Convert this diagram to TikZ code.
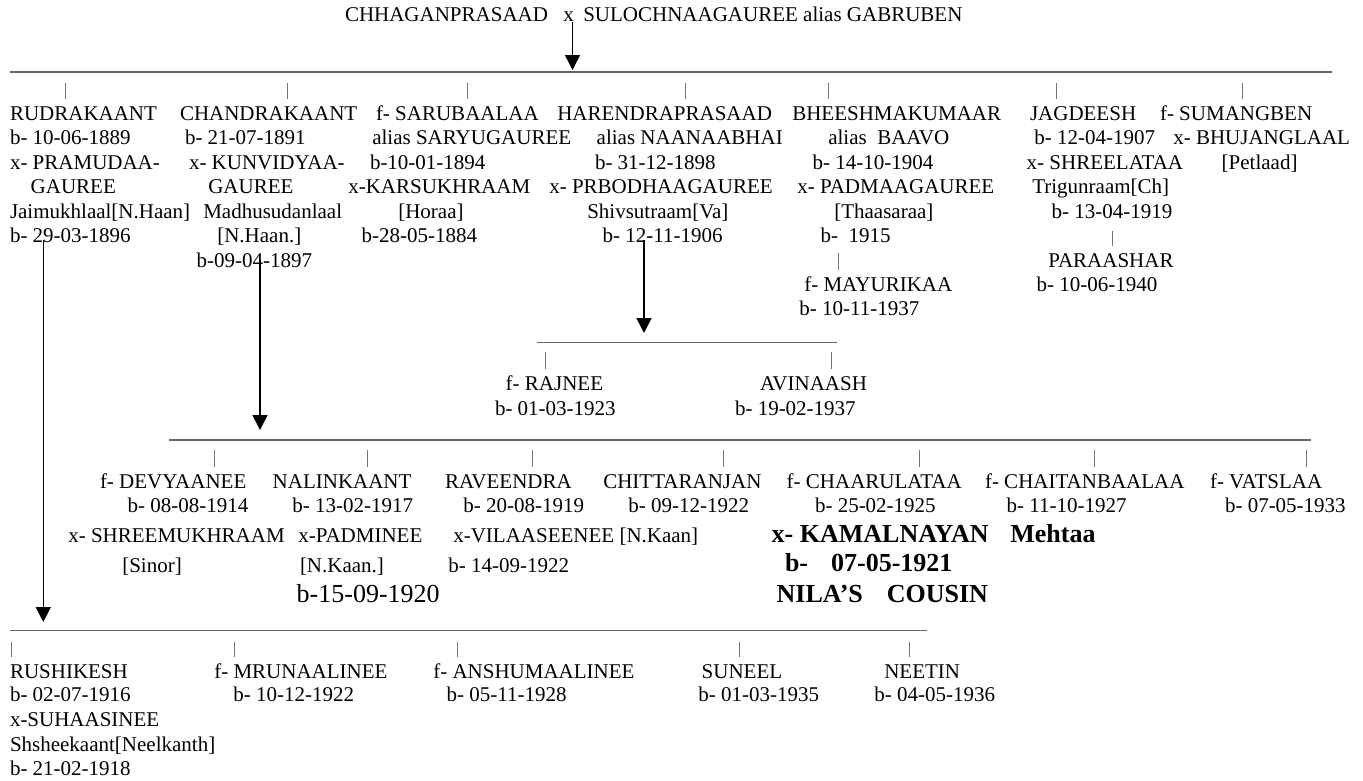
\documentclass[tikz,border=0pt]{standalone}
\usepackage{fontspec}
\setmainfont{Liberation Serif}
\usetikzlibrary{arrows.meta}
\newcommand\rfs{\fontsize{21pt}{24pt}\selectfont}
\newcommand\bigfs{\fontsize{26pt}{30pt}\selectfont}
\newcommand\boldfs{\fontsize{26pt}{30pt}\selectfont\bfseries}
\begin{document}
\begin{tikzpicture}[x=1pt,y=-1pt,
  t/.style={anchor=base west,inner sep=0pt,outer sep=0pt,font=\rfs},
  tbig/.style={t,font=\bigfs},
  tbold/.style={t,font=\boldfs},
  rule/.style={draw=black!60,line width=1.2pt},
  tick/.style={draw=black!55,line width=0.7pt},
  arr/.style={draw=black,line width=1.5pt,-{Triangle[width=15pt,length=15pt]}}]
\useasboundingbox[fill=white] (0,0) rectangle (1363,780);

% ---------- title ----------
\node[t] (ti1) at (345,21.7) {CHHAGANPRASAAD};
\node[t] (tix) at (563.3,21.7) {x};
\node[t] (ti2) at (583.3,21.7) {SULOCHNAAGAUREE alias GABRUBEN};

% ---------- horizontal rules ----------
\coordinate (L1w) at (10,72);     \coordinate (L1e) at (1332,72);
\coordinate (L2w) at (536.7,342.7); \coordinate (L2e) at (836.7,342.7);
\coordinate (L3w) at (169,440);   \coordinate (L3e) at (1310.7,440);
\coordinate (L4w) at (10,630.5);  \coordinate (L4e) at (926.7,630.5);
\draw[rule] (L1w) -- (L1e);
\draw[rule] (L2w) -- (L2e);
\draw[rule] (L3w) -- (L3e);
\draw[rule] (L4w) -- (L4e);

% ---------- ticks ----------
\foreach \x in {65,287.7,467.7,685.7,828.3,1056.7,1242.3}
  \draw[tick] (\x,83) -- (\x,99);
\draw[tick] (838,253) -- (838,270);
\draw[tick] (1112,231) -- (1112,246);
\foreach \x in {545,831.7}
  \draw[tick] (\x,351.7) -- (\x,369);
\foreach \x in {214.3,367.7,532.3,723.3,919,1094,1306}
  \draw[tick] (\x,450) -- (\x,466.7);
\foreach \x in {11.7,234.3,457.7,739,909}
  \draw[tick] (\x,641.7) -- (\x,656.7);

% ---------- generation 1 ----------
% Rudrakaant
\node[t] (ru1) at (10,120) {RUDRAKAANT};
\node[t] (ru2) at (10,144.5) {b- 10-06-1889};
\node[t] (ru3) at (10,169) {x- PRAMUDAA-};
\node[t] (ru4) at (30.7,193.5) {GAUREE};
\node[t] (ru5) at (10,218) {Jaimukhlaal[N.Haan]};
\node[t] (ru6) at (10,242.5) {b- 29-03-1896};
% Chandrakaant
\node[t] (ch1) at (180,120) {CHANDRAKAANT};
\node[t] (ch2) at (185,144.5) {b- 21-07-1891};
\node[t] (ch3) at (189,169) {x- KUNVIDYAA-};
\node[t] (ch4) at (208.3,193.5) {GAUREE};
\node[t] (ch5) at (203.3,218) {Madhusudanlaal};
\node[t] (ch6) at (217.3,242.5) {[N.Haan.]};
\node[t] (ch7) at (196.7,267) {b-09-04-1897};
% Sarubaalaa
\node[t] (sa1) at (376,120) {f- SARUBAALAA};
\node[t] (sa2) at (372.3,144.5) {alias SARYUGAUREE};
\node[t] (sa3) at (370,169) {b-10-01-1894};
\node[t] (sa4) at (348.3,193.5) {x-KARSUKHRAAM};
\node[t] (sa5) at (398.3,218) {[Horaa]};
\node[t] (sa6) at (361.7,242.5) {b-28-05-1884};
% Harendraprasaad
\node[t] (ha1) at (557.3,120) {HARENDRAPRASAAD};
\node[t] (ha2) at (596.7,144.5) {alias NAANAABHAI};
\node[t] (ha3) at (595,169) {b- 31-12-1898};
\node[t] (ha4) at (549.3,193.5) {x- PRBODHAAGAUREE};
\node[t] (ha5) at (587.3,218) {Shivsutraam[Va]};
\node[t] (ha6) at (602.7,242.5) {b- 12-11-1906};
% Bheeshmakumaar
\node[t] (bh1) at (792.3,120) {BHEESHMAKUMAAR};
\node[t] (bh2) at (828.3,144.5) {alias\ \ BAAVO};
\node[t] (bh3) at (812.7,169) {b- 14-10-1904};
\node[t] (bh4) at (797.3,193.5) {x- PADMAAGAUREE};
\node[t] (bh5) at (834.3,218) {[Thaasaraa]};
\node[t] (bh6) at (820.7,242.5) {b-\ \ 1915};
\node[t] (my1) at (804.3,291) {f- MAYURIKAA};
\node[t] (my2) at (799.3,315) {b- 10-11-1937};
% Jagdeesh
\node[t] (ja1) at (1030,120) {JAGDEESH};
\node[t] (ja2) at (1034.3,144.5) {b- 12-04-1907};
\node[t] (ja3) at (1026.7,169) {x- SHREELATAA};
\node[t] (ja4) at (1032.3,193.5) {Trigunraam[Ch]};
\node[t] (ja5) at (1051.7,218) {b- 13-04-1919};
\node[t] (pa1) at (1048.3,267) {PARAASHAR};
\node[t] (pa2) at (1036.7,291.5) {b- 10-06-1940};
% Sumangben
\node[t] (su1) at (1160,120) {f- SUMANGBEN};
\node[t] (su2) at (1173.3,144.5) {x- BHUJANGLAAL};
\node[t] (su3) at (1221.7,169) {[Petlaad]};

% ---------- Harendraprasaad's children ----------
\node[t] (rj1) at (505.7,390) {f- RAJNEE};
\node[t] (rj2) at (495,415) {b- 01-03-1923};
\node[t] (av1) at (760,390) {AVINAASH};
\node[t] (av2) at (735,415) {b- 19-02-1937};

% ---------- Chandrakaant's children ----------
\node[t] (de1) at (100,488) {f- DEVYAANEE};
\node[t] (de2) at (127.7,512.7) {b- 08-08-1914};
\node[t] (de3) at (68.3,542.7) {x- SHREEMUKHRAAM};
\node[t] (de4) at (122.3,572) {[Sinor]};
\node[t] (na1) at (272.7,488) {NALINKAANT};
\node[t] (na2) at (292.3,512.7) {b- 13-02-1917};
\node[t] (na3) at (298.3,542.7) {x-PADMINEE};
\node[t] (na4) at (300,572) {[N.Kaan.]};
\node[tbig] (na5) at (296.7,602.7) {b-15-09-1920};
\node[t] (rv1) at (445,488) {RAVEENDRA};
\node[t] (rv2) at (463.3,512.7) {b- 20-08-1919};
\node[t] (rv3) at (453.3,542.7) {x-VILAASEENEE [N.Kaan]};
\node[t] (rv4) at (448.3,572) {b- 14-09-1922};
\node[t] (ct1) at (603.3,488) {CHITTARANJAN};
\node[t] (ct2) at (628.3,512.7) {b- 09-12-1922};
\node[t] (cr1) at (786.7,488) {f- CHAARULATAA};
\node[t] (cr2) at (815,512.7) {b- 25-02-1925};
\node[tbold] (cr3) at (771.7,542.5) {x- KAMALNAYAN\hspace{21.7pt}Mehtaa};
\node[tbold] (cr4) at (785,571.7) {b-\hspace{23pt}07-05-1921};
\node[tbold] (cr5) at (776.7,602) {NILA’S\hspace{24pt}COUSIN};
\node[t] (cb1) at (985,488) {f- CHAITANBAALAA};
\node[t] (cb2) at (1006.7,512.7) {b- 11-10-1927};
\node[t] (va1) at (1210,488) {f- VATSLAA};
\node[t] (va2) at (1225,512.7) {b- 07-05-1933};

% ---------- Rudrakaant's children ----------
\node[t] (rs1) at (10,678.3) {RUSHIKESH};
\node[t] (rs2) at (10,701.7) {b- 02-07-1916};
\node[t] (rs3) at (10,726.7) {x-SUHAASINEE};
\node[t] (rs4) at (10,751.7) {Shsheekaant[Neelkanth]};
\node[t] (rs5) at (10,775.7) {b- 21-02-1918};
\node[t] (mr1) at (214.3,678.3) {f- MRUNAALINEE};
\node[t] (mr2) at (233.3,701.7) {b- 10-12-1922};
\node[t] (an1) at (433.3,678.3) {f- ANSHUMAALINEE};
\node[t] (an2) at (446.7,701.7) {b- 05-11-1928};
\node[t] (sn1) at (701.7,678.3) {SUNEEL};
\node[t] (sn2) at (698.3,701.7) {b- 01-03-1935};
\node[t] (ne1) at (884.3,678.3) {NEETIN};
\node[t] (ne2) at (874.3,701.7) {b- 04-05-1936};

% ---------- arrows ----------
\coordinate (a1) at (572.5,22);
\coordinate (a2) at (43.3,240);
\coordinate (a3) at (260,260);
\coordinate (a4) at (644,240);
\draw[arr,shorten >=2pt] (a1) -- (a1 |- L1w);
\draw[arr,shorten >=8.5pt] (a2) -- (a2 |- L4w);
\draw[arr,shorten >=10pt] (a3) -- (a3 |- L3w);
\draw[arr,shorten >=9.7pt] (a4) -- (a4 |- L2w);
\end{tikzpicture}
\end{document}
